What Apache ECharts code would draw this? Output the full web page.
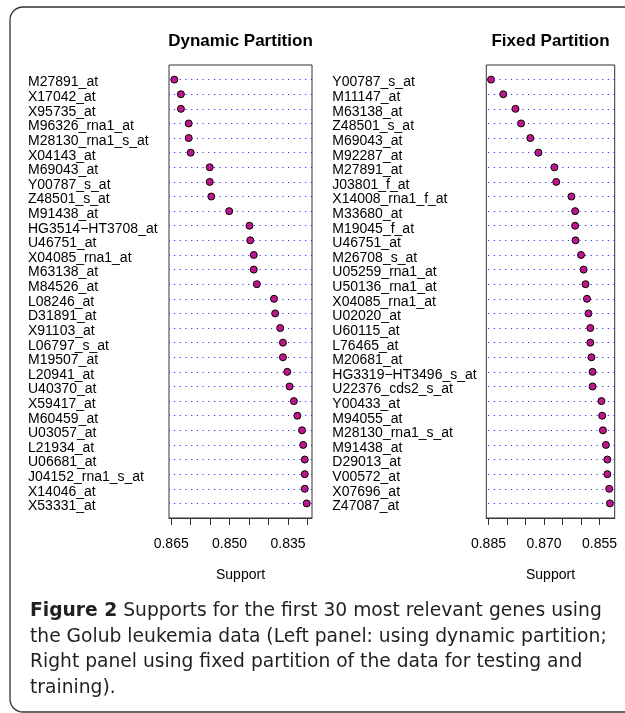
<!DOCTYPE html>
<html>
<head>
<meta charset="utf-8">
<script src="https://cdn.jsdelivr.net/npm/echarts@6/dist/echarts.min.js"></script>
<style>
html,body{margin:0;padding:0;background:#fff;}
#chart{width:625px;height:713px;}
</style>
</head>
<body>
<div id="chart"></div>
<script>
var leftGenes = ["M27891_at","X17042_at","X95735_at","M96326_rna1_at","M28130_rna1_s_at","X04143_at","M69043_at","Y00787_s_at","Z48501_s_at","M91438_at","HG3514\u2212HT3708_at","U46751_at","X04085_rna1_at","M63138_at","M84526_at","L08246_at","D31891_at","X91103_at","L06797_s_at","M19507_at","L20941_at","U40370_at","X59417_at","M60459_at","U03057_at","L21934_at","U06681_at","J04152_rna1_s_at","X14046_at","X53331_at"];
var leftSupport = [0.8642,0.8625,0.8625,0.8605,0.8605,0.8600,0.8551,0.8551,0.8547,0.8501,0.8449,0.8447,0.8438,0.8438,0.8430,0.8386,0.8383,0.8370,0.8363,0.8363,0.8352,0.8346,0.8335,0.8326,0.8314,0.8311,0.8307,0.8307,0.8307,0.8302];
var rightGenes = ["Y00787_s_at","M11147_at","M63138_at","Z48501_s_at","M69043_at","M92287_at","M27891_at","J03801_f_at","X14008_rna1_f_at","M33680_at","M19045_f_at","U46751_at","M26708_s_at","U05259_rna1_at","U50136_rna1_at","X04085_rna1_at","U02020_at","U60115_at","L76465_at","M20681_at","HG3319\u2212HT3496_s_at","U22376_cds2_s_at","Y00433_at","M94055_at","M28130_rna1_s_at","M91438_at","D29013_at","V00572_at","X07696_at","Z47087_at"];
var rightSupport = [0.8843,0.8810,0.8777,0.8762,0.8737,0.8715,0.8672,0.8667,0.8626,0.8616,0.8616,0.8615,0.8600,0.8593,0.8588,0.8584,0.8580,0.8575,0.8575,0.8572,0.8569,0.8569,0.8545,0.8543,0.8541,0.8533,0.8529,0.8529,0.8524,0.8522];
var leftTicks = [0.830,0.835,0.840,0.845,0.850,0.855,0.860,0.865];
var leftTickLabels = [0.835,0.850,0.865];
var rightTicks = [0.855,0.860,0.865,0.870,0.875,0.880,0.885];
var rightTickLabels = [0.855,0.870,0.885];
var panelTitles = ["Dynamic Partition","Fixed Partition"];
var axisTitle = "Support";
var captionLines = [
  [{b:"Figure 2"},{r:" Supports for the first 30 most relevant genes using"}],
  [{r:"the Golub leukemia data (Left panel: using dynamic partition;"}],
  [{r:"Right panel using fixed partition of the data for testing and"}],
  [{r:"training)."}]
];

function ext(vals){
  var mn = Math.min.apply(null, vals), mx = Math.max.apply(null, vals);
  var d = (mx - mn) * 0.04;
  return {min: mn - d, max: mx + d};
}
var le = ext(leftSupport), re = ext(rightSupport);
var rows = leftGenes.map(function(_, i){ return i + 1; });

var chart = echarts.init(document.getElementById('chart'), null, {renderer:'canvas'});
var FONT = 'Liberation Sans, Arial, sans-serif';
var dotColor = 'rgb(50,50,255)';

function xAxisFor(idx, e, ticks, labels){
  return {
    gridIndex: idx, type: 'value', inverse: true, min: e.min, max: e.max,
    splitLine: {show:false},
    axisLine: {show:true, onZero:false, lineStyle:{color:'#333', width:1}},
    axisTick: {show:true, inside:false, length:7, customValues: ticks, lineStyle:{color:'#333', width:1}},
    axisLabel: {customValues: labels, margin: 19, fontSize: 14, color:'#000', fontFamily: FONT,
      formatter: function(v){ return Number(v).toFixed(3); }},
    name: axisTitle, nameLocation: 'middle', nameGap: 50,
    nameTextStyle: {fontSize:14, color:'#000', fontFamily: FONT}
  };
}
function yAxisFor(idx, genes, margin){
  return {
    gridIndex: idx, type: 'value', inverse: true, min: 0, max: genes.length + 1, interval: 1,
    splitLine: {show:false}, axisLine: {show:false}, axisTick: {show:false},
    axisLabel: {align:'left', verticalAlign:'middle', margin: margin, fontSize:14, color:'#000', fontFamily: FONT,
      formatter: function(v){ var g = genes[v - 1]; return g ? '{n|' + g + '}' : ''; },
      rich: {n: {fontSize:14, color:'#000', fontFamily: FONT, padding:[6,0,0,0]}}}
  };
}
function lineSeries(idx){
  return {
    type:'line', xAxisIndex: idx, yAxisIndex: idx, data: [], z: 1, silent: true,
    markLine: {silent:true, symbol:['none','none'], animation:false, label:{show:false},
      lineStyle:{color: dotColor, type:[1.2,4.5], width:1},
      emphasis:{disabled:true},
      data: rows.map(function(r){ return {yAxis: r}; })}
  };
}
function dotSeries(idx, vals){
  return {
    type:'scatter', xAxisIndex: idx, yAxisIndex: idx, z: 3, symbol:'circle', symbolSize: 7,
    itemStyle: {color:'#C71585', borderColor:'#000', borderWidth:1, opacity:1},
    data: vals.map(function(v, i){ return [v, rows[i]]; })
  };
}

var graphics = [
  {type:'rect', shape:{x:10, y:7, width:660, height:705, r:13}, style:{fill:'none', stroke:'#333', lineWidth:1.3}, silent:true},
  {type:'text', x:240.5, y:41, style:{text: panelTitles[0], textAlign:'center', textVerticalAlign:'middle', font:'bold 17px ' + FONT, fill:'#000'}},
  {type:'text', x:550.5, y:41, style:{text: panelTitles[1], textAlign:'center', textVerticalAlign:'middle', font:'bold 17px ' + FONT, fill:'#000'}}
];
var capY = [621, 646.5, 672, 697.5];
captionLines.forEach(function(parts, li){
  var txt = parts.map(function(p){ return p.b ? '{b|' + p.b + '}' : '{r|' + p.r + '}'; }).join('');
  graphics.push({type:'text', x:30, y:capY[li], style:{
    text: txt, textAlign:'left', textVerticalAlign:'bottom',
    rich: {
      b: {fontFamily:'DejaVu Sans', fontWeight:'bold', fontSize:18.7, fill:'#231f20'},
      r: {fontFamily:'DejaVu Sans', fontWeight:'normal', fontSize:18.7, fill:'#231f20'}
    }
  }});
});

chart.setOption({
  animation: false,
  grid: [
    {left:169, width:143, top:65, height:453, show:true, borderColor:'#333', borderWidth:1, backgroundColor:'transparent', containLabel:false},
    {left:486.3, width:128.4, top:65, height:453, show:true, borderColor:'#333', borderWidth:1, backgroundColor:'transparent', containLabel:false}
  ],
  xAxis: [xAxisFor(0, le, leftTicks, leftTickLabels), xAxisFor(1, re, rightTicks, rightTickLabels)],
  yAxis: [yAxisFor(0, leftGenes, 141), yAxisFor(1, rightGenes, 154)],
  series: [lineSeries(0), lineSeries(1), dotSeries(0, leftSupport), dotSeries(1, rightSupport)],
  graphic: graphics
});
</script>
</body>
</html>
